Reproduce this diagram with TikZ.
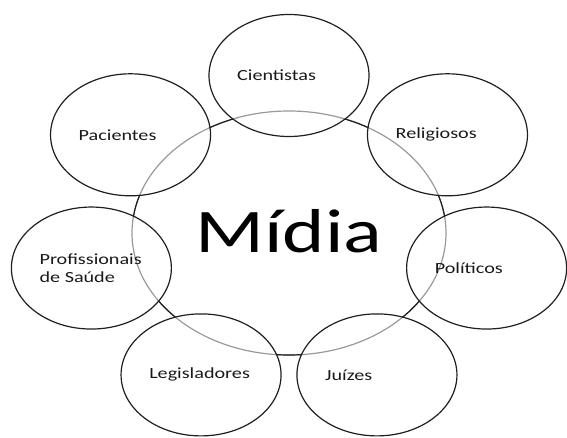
\documentclass[tikz,border=0pt]{standalone}
\usepackage{fontspec}
\setmainfont{Carlito}
\newfontfamily\widefont[FakeStretch=1.3]{Carlito}
\usetikzlibrary{shapes}

\begin{document}
\begin{tikzpicture}[x=1pt,y=1pt]
  \tikzset{ring/.style = {ellipse, draw=black!88, line width=1.2pt, inner sep=0pt}}
  \tikzset{actor/.style = {ring, minimum width=160pt, minimum height=122pt}}
  \tikzset{actorlabel/.style = {inner sep=0pt, align=left, anchor=west, text=black!90, font=\widefont\fontsize{15.5}{18}\selectfont}}

  \useasboundingbox (0,0) rectangle (567,437);

  % centre, pale where the actors cover it
  \node[ring, draw=black!40, minimum width=314pt, minimum height=244pt] (midia) at (289,204) {};
  \node[anchor=base, inner sep=0pt, font=\widefont\fontsize{62}{62}\selectfont] (midialabel) at (289,185) {Mídia};

  % actors round the centre
  \foreach \i/\txt in {0/Cientistas, 1/Pacientes, 2/{Profissionais\\de Saúde}, 3/Legisladores, 4/Juízes, 5/Políticos, 6/Religiosos}
  {
    \node[actor] (a\i) at ({289+202.7*cos(90+360*\i/7)},{204+157.5*sin(90+360*\i/7)}) {};
    \node[actorlabel] (t\i) at ([xshift=-52pt]a\i.center) {\txt};
  }

  % dark outline of the centre outside the actors
  \begin{scope}[even odd rule]
    \clip (0,0) rectangle (567,437)
      foreach \i in {0,...,6} {(a\i.center) ellipse [x radius=80pt, y radius=61pt]};
    \draw[black!88, line width=1.2pt] (midia.center) ellipse [x radius=157pt, y radius=122pt];
  \end{scope}
\end{tikzpicture}
\end{document}
